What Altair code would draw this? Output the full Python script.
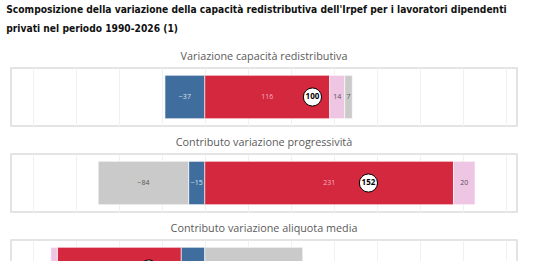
import altair as alt
import pandas as pd

# Panels of the decomposition (total change = progressivity + average rate)
panels = [
    "Variazione capacità redistributiva",
    "Contributo variazione progressività",
    "Contributo variazione aliquota media",
]
# Components, in stacking order
components = ["Componente A", "Componente B", "Componente C", "Componente D"]
component_colors = ["#3f6e9e", "#d3283d", "#eec5e2", "#cacaca"]

# Contribution of each component, one list per panel
values_total = [-37, 116, 14, 7]
values_progressivity = [-15, 231, 20, -84]
values_avg_rate = [-22, -115, -6, 91]
# Net totals shown in the circles
totals = [100, 152, -52]

rows = []
for panel, vals in zip(panels, [values_total, values_progressivity, values_avg_rate]):
    for i, (comp, v) in enumerate(zip(components, vals)):
        rows.append({"panel": panel, "component": comp, "order": i, "value": v})
df = pd.DataFrame(rows)
tot_df = pd.DataFrame({"panel": panels, "total": totals})

X_DOMAIN = [-180, 290]
grid_values = list(range(-160, 290, 20))

x_scale = alt.Scale(domain=X_DOMAIN, nice=False, zero=False)
x_axis = alt.Axis(values=grid_values, labels=False, ticks=False, domain=False,
                  title=None, grid=True, gridColor="#f1f1f1", gridWidth=1)
y_enc = alt.Y("lane:N", axis=None, scale=alt.Scale(paddingOuter=0.17, paddingInner=0))

FONT = "Open Sans"
TITLE_FONT = "DejaVu Sans Condensed"


def panel_chart(panel):
    base = alt.Chart(df).transform_filter(alt.datum.panel == panel).transform_calculate(lane="'a'")
    stacked = base.transform_stack(
        stack="value", groupby=["lane"], as_=["x0", "x1"],
        sort=[alt.SortField("order", order="ascending")], offset="zero",
    ).transform_calculate(mid="(datum.x0 + datum.x1) / 2")

    bars = stacked.mark_bar(stroke="white", strokeWidth=0.6).encode(
        x=alt.X("x0:Q", scale=x_scale, axis=x_axis),
        x2="x1:Q",
        y=y_enc,
        color=alt.Color("component:N", legend=None,
                        scale=alt.Scale(domain=components, range=component_colors)),
    )

    def labels(comps, color):
        return stacked.transform_filter(
            alt.FieldOneOfPredicate(field="component", oneOf=comps)
        ).mark_text(fontSize=7, font=FONT, color=color).encode(
            x="mid:Q", y=y_enc, text=alt.Text("value:Q", format="d"),
        )

    lab_blue = labels(["Componente A"], "#dbe3ec")
    lab_red = labels(["Componente B"], "#f2b2bd")
    lab_dark = labels(["Componente C", "Componente D"], "#555555")

    tbase = alt.Chart(tot_df).transform_filter(alt.datum.panel == panel).transform_calculate(lane="'a'")
    circle = tbase.mark_point(filled=True, fill="white", stroke="black", strokeWidth=1,
                              size=330, opacity=1, shape="circle").encode(
        x="total:Q", y=y_enc,
    )
    circle_text = tbase.mark_text(fontSize=8, font=FONT, fontWeight="bold", color="black").encode(
        x="total:Q", y=y_enc, text=alt.Text("total:Q", format="d"),
    )

    return alt.layer(bars, lab_blue, lab_red, lab_dark, circle, circle_text).properties(
        width=506, height=58,
        title=alt.TitleParams(panel, fontSize=10.8, font=FONT, fontWeight="normal",
                              color="#5a5a5a", anchor="middle", offset=6),
    )


chart = alt.vconcat(*[panel_chart(p) for p in panels], spacing=9).properties(
    title=alt.TitleParams(
        "Scomposizione della variazione della capacità redistributiva dell'Irpef per i lavoratori dipendenti",
        subtitle="privati nel periodo 1990-2026 (1)",
        fontSize=10.2, font=TITLE_FONT, fontWeight="bold", color="#111111",
        subtitleFontSize=10.2, subtitleFont=TITLE_FONT, subtitleFontWeight="bold",
        subtitleColor="#111111", subtitlePadding=9,
        anchor="start", dx=-4, offset=16, baseline="top",
    ),
    padding={"left": 6, "top": 5, "right": 5, "bottom": 5},
).configure_view(stroke="#dcdcdc", strokeWidth=1.5)

chart.save("out.html", embed_options={"renderer": "svg", "actions": False})
